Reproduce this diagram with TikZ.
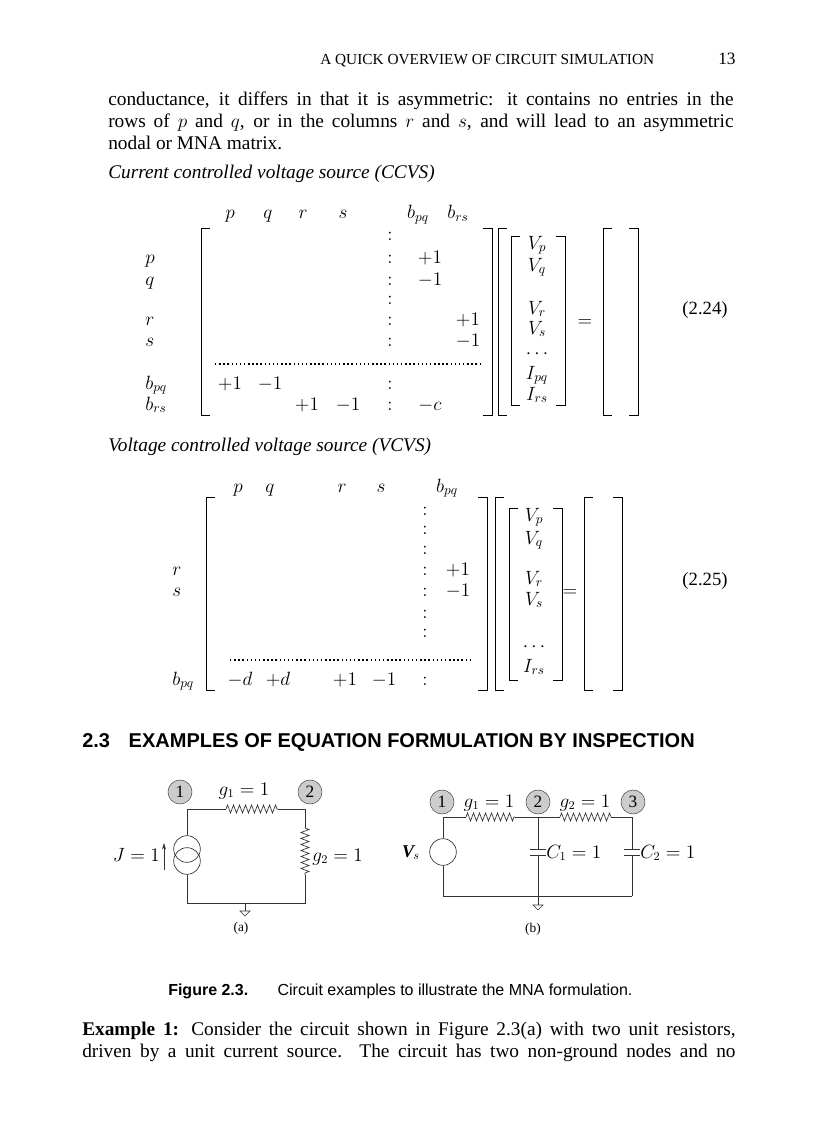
\documentclass[tikz,border=0pt]{standalone}
\usepackage{fontspec}
\setmainfont{Liberation Serif}
\newfontfamily\capsans{Liberation Sans}
\usetikzlibrary{decorations.pathmorphing,arrows.meta}
\newcommand\LB[3]{\draw[brk] (#1+9,#2) -- (#1,#2) -- (#1,#3) -- (#1+9,#3);}
\newcommand\RB[3]{\draw[brk] (#1-9,#2) -- (#1,#2) -- (#1,#3) -- (#1-9,#3);}
\newcommand\jline[1]{\parbox{469pt}{\parfillskip=0pt #1}}
\tikzset{
 txt/.style={anchor=base west,inner sep=0pt,font=\fontsize{14.5}{17}\selectfont},
 m/.style={anchor=base,inner sep=0pt,font=\fontsize{14}{16}\selectfont},
 brk/.style={line width=0.7pt},
 dl/.style={dotted,line width=1.1pt},
 wire/.style={line width=0.5pt,draw=black!80},
 res/.style={wire,decorate,decoration={zigzag,segment length=4.5,amplitude=3}},
 nd/.style={circle,draw=black!70,fill=black!20,minimum size=18pt,inner sep=0pt,font=\fontsize{13}{13}\selectfont},
 cl/.style={anchor=base,inner sep=0pt,font=\fontsize{13.5}{16}\selectfont}
}
\begin{document}
\begin{tikzpicture}[x=0.75pt,y=-0.75pt]
\useasboundingbox (0,0) rectangle (816,1123);
% header
\node[anchor=base west,inner sep=0pt,font=\fontsize{11.5}{13}\selectfont] (hd) at (320,65) {A QUICK OVERVIEW OF CIRCUIT SIMULATION};
\node[anchor=base west,inner sep=0pt,font=\fontsize{13}{14}\selectfont] (pg) at (718,65) {13};
% paragraph
\node[txt] (l1) at (108,106) {\jline{conductance, it differs in that it is asymmetric: it contains no entries in the}};
\node[txt] (l2) at (108,128) {\jline{rows of $p$ and $q$, or in the columns $r$ and $s$, and will lead to an asymmetric}};
\node[txt] (l3) at (108,150) {nodal or MNA matrix.};
\node[txt] (t1) at (108,179) {\itshape Current controlled voltage source (CCVS)};
% ---------- matrix 1
\foreach \x/\t [count=\i] in {230/p,268/q,303/r,343/s,418/b_{pq},458/b_{rs}} \node[m] (h1\i) at (\x,219) {$\t$};
\foreach \y/\t [count=\i] in {263/p,285/q,325/r,346/s,389/b_{pq},410/b_{rs}} \node[m,anchor=base west] (r1\i) at (145,\y) {$\t$};
\foreach \y [count=\i] in {240,263,285,304,325,346,389,410} \node[m] (c1\i) at (390,\y) {$:$};
\node[m] (e11) at (430,263) {$+1$};
\node[m] (e12) at (430,285) {$-1$};
\node[m] (e13) at (468,325) {$+1$};
\node[m] (e14) at (468,346) {$-1$};
\node[m] (e15) at (230,389) {$+1$};
\node[m] (e16) at (270,389) {$-1$};
\node[m] (e17) at (307,410) {$+1$};
\node[m] (e18) at (348,410) {$-1$};
\node[m] (e19) at (430,410) {$-c$};
\draw[dl] (215,364) -- (480,364);
\LB{201}{228}{415}
\RB{492}{228}{415}
\LB{498}{228}{415}
\LB{511}{236}{405}
\RB{565}{236}{405}
\foreach \y/\t [count=\i] in {249/V_p,271/V_q,314/V_r,334/V_s,358/\cdots,379/I_{pq},400/I_{rs}} \node[m] (v1\i) at (537,\y) {$\t$};
\node[m] (eq1) at (585,326) {$=$};
\LB{603}{228}{415}
\RB{638}{228}{415}
\node[m] (n1) at (705,314) {(2.24)};
\node[txt] (t2) at (108,451) {\itshape Voltage controlled voltage source (VCVS)};
% ---------- matrix 2
\foreach \x/\t [count=\i] in {238/p,270/q,342/r,381/s,447/b_{pq}} \node[m] (h2\i) at (\x,492) {$\t$};
\foreach \y/\t [count=\i] in {575/r,596/s,685/b_{pq}} \node[m,anchor=base west] (r2\i) at (172,\y) {$\t$};
\foreach \y [count=\i] in {515,534,554,575,596,618,637,685} \node[m] (c2\i) at (425,\y) {$:$};
\node[m] (f1) at (458,575) {$+1$};
\node[m] (f2) at (458,596) {$-1$};
\node[m] (f3) at (240,685) {$-d$};
\node[m] (f4) at (278,685) {$+d$};
\node[m] (f5) at (345,685) {$+1$};
\node[m] (f6) at (384,685) {$-1$};
\draw[dl] (230,660) -- (470,660);
\LB{206}{497}{690}
\RB{487}{497}{690}
\LB{495}{497}{690}
\LB{509}{508}{680}
\RB{562}{508}{680}
\foreach \y/\t [count=\i] in {521/V_p,544/V_q,584/V_r,605/V_s,651/\cdots,672/I_{rs}} \node[m] (v2\i) at (534,\y) {$\t$};
\node[m] (eq2) at (570,596) {$=$};
\LB{584}{497}{690}
\RB{622}{497}{690}
\node[m] (n2) at (705,585) {(2.25)};
% section heading
\node[anchor=base west,inner sep=0pt,font=\capsans\bfseries\fontsize{15}{17}\selectfont] (sec) at (82,747) {2.3\hspace{14pt}EXAMPLES OF EQUATION FORMULATION BY INSPECTION};
% ---------- circuit a
\node[nd] (a1) at (180,792) {1};
\node[nd] (a2) at (310,792) {2};
\coordinate (aTL) at (187,809); \coordinate (aTR) at (305,809);
\coordinate (aBL) at (187,903); \coordinate (aBR) at (305,903);
\coordinate (aG) at (245,903);
\draw[wire] (aTL) -- (226,809);
\draw[res] (226,809) -- (278,809);
\draw[wire] (278,809) -- (aTR) -- (305,828);
\draw[res] (305,828) -- (305,875);
\draw[wire] (305,875) -- (aBR) -- (aBL) -- (187,875);
\draw[wire] (aTL) -- (187,835);
\node[circle,draw=black!80,line width=0.5pt,minimum size=20pt,inner sep=0pt] (ja) at (187,849) {};
\node[circle,draw=black!80,line width=0.5pt,minimum size=20pt,inner sep=0pt] (jb) at (187,861) {};
\draw[wire] (jb.south) -- (187,875);
\draw[wire,-{Stealth[length=5pt,width=3pt]}] (164,870) -- (164,843);
\node[cl] (gl1) at (244,795) {$g_1=1$};
\node[cl,anchor=base west] (gl2) at (312,861) {$g_2=1$};
\node[cl,anchor=base east] (jl) at (160,861) {$J=1$};
\draw[wire] (aG) -- (245,911);
\draw[wire] (240,911) -- (250,911) -- (245,916) -- cycle;
\node[anchor=base,inner sep=0pt,font=\fontsize{10}{10}\selectfont] (ca) at (241,931) {(a)};
% ---------- circuit b
\node[nd] (b1) at (442,802) {1};
\node[nd] (b2) at (538,802) {2};
\node[nd] (b3) at (633,802) {3};
\node[cl] (bg1) at (489,807) {$g_1=1$};
\node[cl] (bg2) at (585,807) {$g_2=1$};
\draw[wire] (443,817) -- (466,817);
\draw[res] (466,817) -- (515,817);
\draw[wire] (515,817) -- (560,817);
\draw[res] (560,817) -- (611,817);
\draw[wire] (611,817) -- (632,817);
\node[circle,draw=black!80,line width=0.5pt,minimum size=20pt,inner sep=0pt] (vs) at (443,852) {};
\draw[wire] (443,817) -- (vs.north);
\draw[wire] (vs.south) -- (443,896) -- (632,896);
\node[cl,anchor=base east] (vsl) at (420,857) {\textbf{\textit{V}}$_{\!s}$};
\foreach \x/\n in {538/1,632/2}{
 \draw[wire] (\x,817) -- (\x,849);
 \draw[wire] (\x-8,849) -- (\x+8,849);
 \draw[wire] (\x-8,855) -- (\x+8,855);
 \draw[wire] (\x,855) -- (\x,896);
 \node[cl,anchor=base west] (cl\n) at (\x+8,858) {$C_\n=1$};
}
\draw[wire] (538,896) -- (538,905);
\draw[wire] (533,905) -- (543,905) -- (538,910) -- cycle;
\node[anchor=base,inner sep=0pt,font=\fontsize{10}{10}\selectfont] (cb) at (533,932) {(b)};
% caption
\node[anchor=base west,inner sep=0pt,font=\capsans\fontsize{12}{14}\selectfont] (cap) at (168,995) {\textbf{Figure 2.3.}\hspace{22pt}Circuit examples to illustrate the MNA formulation.};
% example
\node[txt] (x1) at (82,1036) {\parbox{490pt}{\parfillskip=0pt \textbf{Example 1:} Consider the circuit shown in Figure 2.3(a) with two unit resistors,}};
\node[txt] (x2) at (82,1058) {\parbox{490pt}{\parfillskip=0pt driven by a unit current source. The circuit has two non-ground nodes and no}};
\end{tikzpicture}
\end{document}
